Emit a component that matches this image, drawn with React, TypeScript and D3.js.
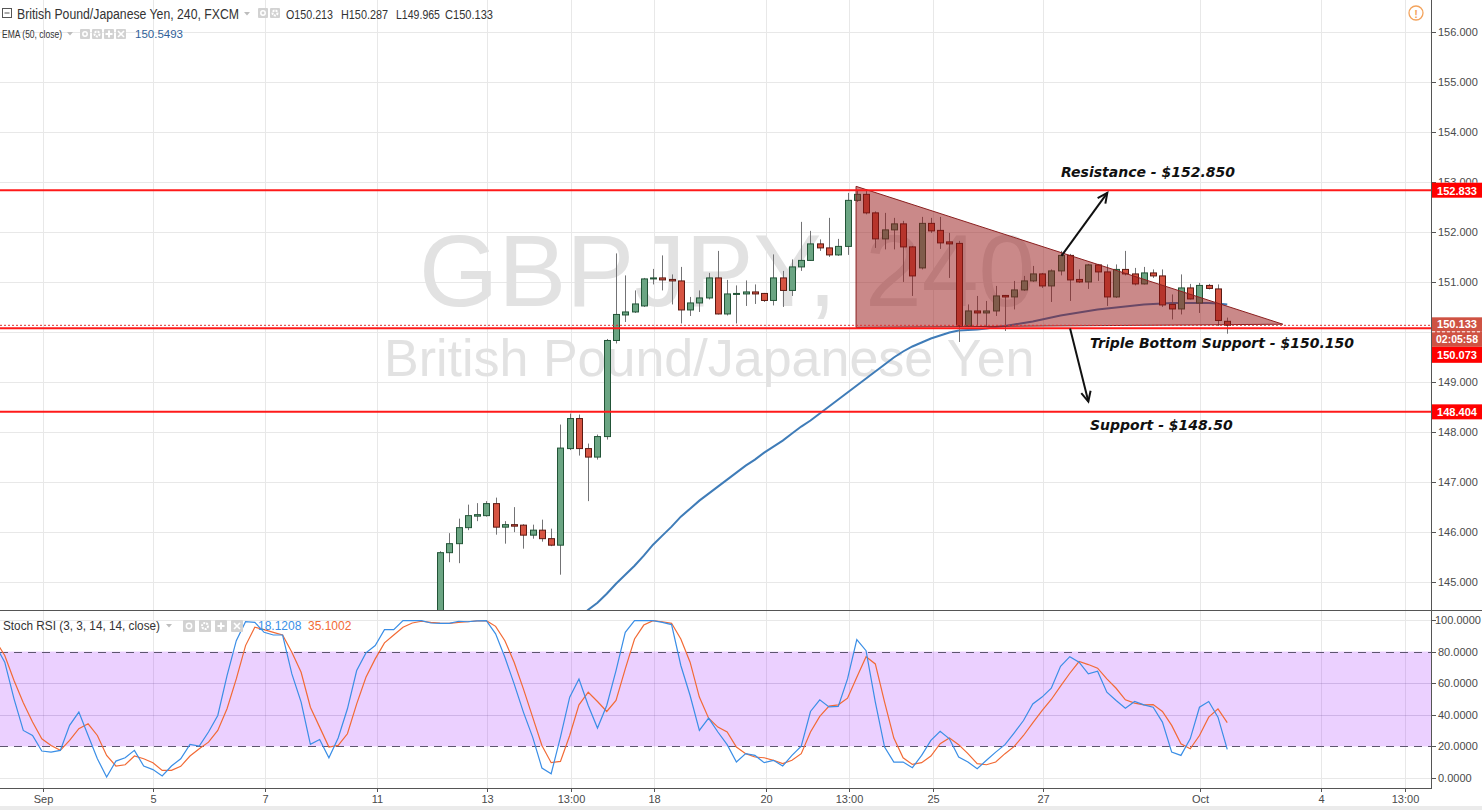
import React from 'react';
import * as d3 from 'd3';

// ---------------- DATA ----------------
// candles start at bar index 48 (4h bars)
const firstCandleIndex = 48;
const candleOpen = [144.10,145.59,145.77,146.09,146.32,146.33,146.57,146.10,146.15,146.14,145.94,146.04,145.87,145.74,147.67,148.27,147.67,147.50,147.91,149.83,150.34,150.40,150.52,151.06,151.08,151.05,151.02,150.44,150.58,150.68,151.08,150.36,150.75,150.76,150.80,150.77,150.63,151.08,150.83,151.30,151.43,151.76,151.68,151.54,151.71,152.63,152.75,152.38,151.86,152.04,152.16,151.70,151.28,152.17,152.03,151.80,151.77,150.12,150.42,150.38,150.42,150.73,150.70,150.84,151.02,151.16,150.92,151.22,151.53,151.05,151.00,151.34,151.20,150.70,151.25,151.16,150.96,151.18,151.12,150.55,150.46,150.88,150.58,150.93,150.86,150.213];
const candleHigh = [145.62,145.98,146.27,146.55,146.58,146.62,146.69,146.22,146.50,146.16,146.15,146.25,146.07,148.15,148.37,148.35,147.77,147.95,149.86,151.57,151.13,150.83,151.08,151.26,151.53,151.15,151.30,150.70,150.83,151.18,151.62,151.04,150.93,151.03,150.95,150.78,151.55,151.22,151.45,152.20,152.02,151.85,152.28,151.86,152.78,152.82,152.85,152.41,152.38,152.28,152.22,151.72,152.30,152.28,152.30,151.98,151.82,150.55,150.72,150.62,150.92,150.74,151.02,151.12,151.32,151.18,151.25,151.62,151.56,151.25,151.36,151.36,151.35,151.35,151.62,151.28,151.30,151.25,151.25,150.75,151.15,150.96,150.98,150.96,150.95,150.287];
const candleLow = [144.00,145.40,145.38,146.04,146.22,146.31,145.95,145.77,146.00,145.67,145.87,145.81,145.72,145.15,147.64,147.53,146.62,147.45,147.85,149.77,150.20,150.38,150.50,150.95,150.83,150.55,150.17,150.32,150.40,150.65,150.35,150.33,150.17,150.52,150.56,150.60,150.53,150.50,150.72,151.22,151.42,151.62,151.50,151.52,151.54,152.60,152.35,151.68,151.65,151.65,151.00,150.72,151.25,151.98,151.66,151.08,149.80,150.10,150.12,150.12,150.32,150.02,150.45,150.82,151.00,150.88,150.60,151.13,150.62,150.98,150.86,151.02,150.52,150.68,151.13,150.93,150.95,151.08,150.50,150.25,150.35,150.65,150.38,150.85,150.12,149.965];
const candleClose = [145.59,145.77,146.09,146.33,146.35,146.57,146.10,146.15,146.12,145.94,146.04,145.87,145.74,147.68,148.27,147.67,147.50,147.91,149.83,150.35,150.40,150.56,151.06,151.08,151.04,151.02,150.44,150.58,150.68,151.08,150.36,150.76,150.77,150.80,150.76,150.63,151.08,150.83,151.30,151.43,151.76,151.68,151.54,151.71,152.63,152.75,152.38,151.86,152.04,152.16,151.70,151.12,152.17,152.02,151.78,151.76,150.12,150.42,150.38,150.42,150.72,150.70,150.84,151.02,151.16,150.92,151.22,151.53,151.04,151.00,151.34,151.20,150.70,151.25,151.16,150.96,151.18,151.12,150.54,150.46,150.88,150.66,150.93,150.87,150.23,150.133];

// EMA(50) from bar index 60
const emaStartIndex = 60;
const emaValues = [143.75,143.93,144.11,144.28,144.45,144.59,144.77,144.97,145.15,145.33,145.53,145.75,145.93,146.11,146.31,146.47,146.63,146.77,146.91,147.05,147.19,147.33,147.45,147.59,147.71,147.83,147.97,148.11,148.23,148.37,148.51,148.65,148.79,148.93,149.07,149.21,149.35,149.49,149.61,149.71,149.79,149.87,149.93,149.99,150.03,150.04,150.05,150.07,150.10,150.12,150.15,150.18,150.21,150.25,150.29,150.33,150.36,150.39,150.42,150.45,150.47,150.49,150.51,150.53,150.55,150.56,150.57,150.58,150.58,150.58,150.58,150.58,150.57,150.55];

// Stoch RSI from bar index 0
const stochK = [84,73.3,50.1,30.1,26.9,17.1,16.4,17.5,33.3,41.7,26.9,12.2,0.6,10.7,12.8,17.5,7.6,5.3,1.3,7.6,12.2,21.3,20.2,29.1,39.6,64.8,86.9,98.9,98.5,92.2,90.5,90.5,65.9,48,21.3,24.4,12.8,25.3,43.8,68,79.2,83.8,93.9,93.9,99.6,99.6,99.6,98.1,97.9,97.9,99.2,98.9,99.4,99.6,91.2,76.4,59.6,41.7,25.9,6.3,2.7,25.9,51.2,62.7,45.9,31.6,45.9,68,92.2,99.6,99.6,99.6,98.5,97.1,71.2,52.2,30.1,37.9,29.1,21.1,10.1,15.4,14.3,9.7,11.2,7.6,14.3,20.2,42.1,49.5,45,45.3,62.7,87.6,80.6,48,19.6,10.1,10.1,6.5,14.3,23.8,29.5,24.8,13.3,10.1,5.9,11.2,16.4,21.1,28.6,36.4,46.9,51.2,56.8,70.7,76.8,73.3,65.9,67.6,54.3,49.1,44.2,48.4,46.3,44.8,35.4,16.4,14.3,24.8,44.8,48.4,38.5,18.1208];
const stochD = [87,77.5,61.7,47.6,35.4,24.8,20.6,17.5,23.8,31.2,34.3,26.9,14.3,7.6,8.4,13.9,12.2,9.7,4.8,4.8,7.4,13.9,18.5,22.7,30.1,43.8,62.7,83.8,95.4,93.9,92.2,90.5,79.6,66.9,44.8,32.2,19.6,20.6,28,46.9,63.8,75.4,85.5,90.5,95.4,98.1,99.2,98.5,98.1,97.9,98.5,98.9,99.4,99.6,96,86.9,73.3,56.4,38.5,20.6,9.7,10.5,26.9,46.3,54.3,48.4,42.1,49.1,69.1,88,96.8,99.6,98.9,97.9,88,73.3,51.2,37.9,32.2,29.1,19.6,15.4,13.3,12.8,11.2,9.1,11.2,15.4,29.1,39,45.5,46.3,50.5,63.8,76.8,72.2,48,25.3,12.8,8.6,9.7,13.9,21.7,25.3,21.1,15.4,9.1,8.4,10.1,15.4,20,26.9,34.9,42.7,49.7,58.1,66.3,73.7,71.8,69.5,62.7,56.8,49.5,47.4,46.3,46.5,42.1,33.3,21.7,18.5,26.9,38.5,43.8,35.1002];

// time axis
const timeTickLabels = ['Sep','5','7','11','13','13:00','18','20','13:00','25','27','Oct','4','13:00'];
const timeTickIndex = [5.1,17.04,29.1,41.2,53.1,62.1,71.1,83.2,92.2,101.2,113.1,130.1,143.1,152.2];

const priceTicks = [145,146,147,148,149,150,151,152,153,154,155,156];
const stochTicks = [0,20,40,60,80,100];
const stochGrid = [0,40,60,100];

// horizontal levels
const levelValues = [152.833, 150.073, 148.404];
const lastPrice = 150.133;
const emaLast = 150.5493;

// header OHLC
const ohlcLabels = ['O', 'H', 'L', 'C'];
const ohlcValues = [150.213, 150.287, 149.965, 150.133];

// triangle (bar index, price)
const triangleIdx = [92.92, 92.92, 139.0];
const trianglePrice = [152.91, 150.09, 150.155];

// annotations
const noteTexts = ['Resistance - $152.850', 'Triple Bottom Support - $150.150', 'Support - $148.50'];
const noteIdx = [115.05, 118.18, 118.18];
const notePrice = [153.1, 149.67, 148.04];
const arrowFromIdx = [115.1, 116.03];
const arrowFromPrice = [151.52, 150.07];
const arrowToIdx = [120.05, 118.0];
const arrowToPrice = [152.78, 148.61];

// ---------------- LAYOUT ----------------
const W = 1482, H = 810;
const AX = 1431;
const P_BOTTOM = 610;
const S_TOP = 611, S_BOTTOM = 788;

const UP = '#6ba583', UP_B = '#225437', DN = '#d75442', DN_B = '#5b1a13', WICK = '#737375';
const GRID = '#e8e8e8';
const FONT = "'Liberation Sans', Arial, sans-serif";

function Icon({ x, y, w, kind }: { x: number; y: number; w: number; kind: string }) {
  const cx = x + w / 2, cy = y + w / 2;
  let g: any = null;
  if (kind === 'eye') g = <circle cx={cx} cy={cy} r={w * 0.22} fill="none" stroke="#fff" strokeWidth={1.5} />;
  else if (kind === 'gear') g = <circle cx={cx} cy={cy} r={w * 0.25} fill="none" stroke="#fff" strokeWidth={2} strokeDasharray="2,1" />;
  else if (kind === 'plus') g = <path d={`M${cx - 3.5},${cy}H${cx + 3.5}M${cx},${cy - 3.5}V${cy + 3.5}`} stroke="#fff" strokeWidth={2} />;
  else g = <path d={`M${cx - 3},${cy - 3}L${cx + 3},${cy + 3}M${cx + 3},${cy - 3}L${cx - 3},${cy + 3}`} stroke="#fff" strokeWidth={1.6} />;
  return (
    <g>
      <rect x={x} y={y} width={w} height={w} fill="#d2d2d2" rx={1} />
      {g}
    </g>
  );
}

function Caret({ x, y }: { x: number; y: number }) {
  return <path d={`M${x},${y}L${x + 6},${y}L${x + 3},${y + 3.5}Z`} fill="#bdbdbd" />;
}

export default function App() {
  const x = d3.scaleLinear().domain([0, 155]).range([-4.5, AX]);
  const y = d3.scaleLinear().domain([145, 156]).range([582.2, 31.7]);
  const ys = d3.scaleLinear().domain([0, 100]).range([778, 620]);

  const candles = candleOpen.map((o, i) => ({
    i: firstCandleIndex + i, o, h: candleHigh[i], l: candleLow[i], c: candleClose[i],
  }));

  const emaLine = d3.line<number>().x((_, i) => x(emaStartIndex + i)).y((v) => y(v));
  const stochLine = d3.line<number>().x((_, i) => x(i)).y((v) => ys(v));

  const tri = triangleIdx.map((g, i) => [x(g), y(trianglePrice[i])] as [number, number]);

  const yLast = y(lastPrice);
  // axis-marker stack occupies this y range; tick labels hidden behind it are skipped
  const stackTop = yLast - 8, stackBottom = yLast + 37.5;
  const hiddenTick = (p: number) => y(p) > stackTop && y(p) < stackBottom;

  const arrowHead = (x1: number, y1: number, x2: number, y2: number) => {
    const a = Math.atan2(y2 - y1, x2 - x1);
    const L = 11, s = 0.45;
    const p1 = [x2 - L * Math.cos(a - s), y2 - L * Math.sin(a - s)];
    const p2 = [x2 - L * Math.cos(a + s), y2 - L * Math.sin(a + s)];
    return `M${p1[0]},${p1[1]}L${x2},${y2}L${p2[0]},${p2[1]}`;
  };

  const ohlcX = [286, 341, 396, 445];

  return (
    <div style={{ position: 'absolute', left: 0, top: 0 }}>
      <svg width={W} height={H} style={{ display: 'block', background: '#fff' }} fontFamily={FONT}>
        <defs>
          <clipPath id="pclip"><rect x={0} y={0} width={AX} height={P_BOTTOM} /></clipPath>
          <clipPath id="sclip"><rect x={0} y={S_TOP} width={AX} height={S_BOTTOM - S_TOP} /></clipPath>
          <clipPath id="tick153"><rect x={AX + 1} y={0} width={W - AX} height={y(152.833) - 7.5} /></clipPath>
        </defs>

        {/* vertical grid */}
        {timeTickIndex.map((g, i) => (
          <line key={'vg' + i} x1={Math.round(x(g)) + 0.5} x2={Math.round(x(g)) + 0.5} y1={0} y2={S_BOTTOM} stroke={GRID} />
        ))}
        {/* price grid */}
        {priceTicks.map((p) => (
          <line key={'pg' + p} x1={0} x2={AX} y1={Math.round(y(p)) + 0.5} y2={Math.round(y(p)) + 0.5} stroke={GRID} />
        ))}

        {/* watermark */}
        <g clipPath="url(#pclip)">
          <text x={419} y={306} fontSize={102} fill="#e2e2e2">GBPJPY, 240</text>
          <text x={384} y={376} fontSize={52} fill="#e2e2e2">British Pound/Japanese Yen</text>
        </g>

        {/* price pane */}
        <g clipPath="url(#pclip)">
          <path d={emaLine(emaValues) || ''} fill="none" stroke="#3f7cb8" strokeWidth={2} />
          {candles.map((d) => {
            const cx = Math.round(x(d.i));
            const up = d.c >= d.o;
            const top = y(Math.max(d.o, d.c));
            const bot = y(Math.min(d.o, d.c));
            return (
              <g key={'c' + d.i}>
                <line x1={cx + 0.5} x2={cx + 0.5} y1={y(d.h)} y2={y(d.l)} stroke={WICK} />
                <rect x={cx - 2.5} y={top} width={6} height={Math.max(1, bot - top)} fill={up ? UP : DN} stroke={up ? UP_B : DN_B} strokeWidth={1} />
              </g>
            );
          })}
          <polygon points={tri.map((p) => p.join(',')).join(' ')} fill="rgba(150,20,20,0.5)" stroke="#8a1f1f" strokeWidth={1} />
          {levelValues.map((v) => (
            <line key={'lv' + v} x1={0} x2={AX} y1={y(v)} y2={y(v)} stroke="#ff1a1a" strokeWidth={2} />
          ))}
          <line x1={0} x2={AX} y1={yLast} y2={yLast} stroke="#e03030" strokeWidth={1} strokeDasharray="2,2" />
          {/* annotations */}
          {arrowFromIdx.map((g, i) => {
            const x1 = x(g), y1 = y(arrowFromPrice[i]), x2 = x(arrowToIdx[i]), y2 = y(arrowToPrice[i]);
            return (
              <g key={'ar' + i} stroke="#111" strokeWidth={2} fill="none">
                <line x1={x1} y1={y1} x2={x2} y2={y2} />
                <path d={arrowHead(x1, y1, x2, y2)} />
              </g>
            );
          })}
          {noteTexts.map((t, i) => (
            <text key={'nt' + i} x={x(noteIdx[i])} y={y(notePrice[i])} fontFamily="'DejaVu Sans', Verdana, sans-serif" fontWeight="bold" fontStyle="italic" fontSize={14} fill="#111">{t}</text>
          ))}
        </g>

        {/* stoch pane */}
        <rect x={0} y={ys(80)} width={AX} height={ys(20) - ys(80)} fill="rgba(153,21,255,0.2)" />
        {stochGrid.map((v) => (
          <line key={'sg' + v} x1={0} x2={AX} y1={Math.round(ys(v)) + 0.5} y2={Math.round(ys(v)) + 0.5} stroke={v === 0 || v === 100 ? GRID : 'rgba(120,90,160,0.25)'} />
        ))}
        {[80, 20].map((v) => (
          <line key={'sb' + v} x1={0} x2={AX} y1={Math.round(ys(v)) + 0.5} y2={Math.round(ys(v)) + 0.5} stroke="#5e5670" strokeDasharray="8,6" />
        ))}
        <g clipPath="url(#sclip)">
          <path d={stochLine(stochD) || ''} fill="none" stroke="#f26a35" strokeWidth={1.2} />
          <path d={stochLine(stochK) || ''} fill="none" stroke="#3a8ee6" strokeWidth={1.2} />
        </g>

        {/* frame lines */}
        <line x1={0} x2={W} y1={610.5} y2={610.5} stroke="#555" />
        <line x1={AX + 0.5} x2={AX + 0.5} y1={0} y2={S_BOTTOM} stroke="#555" />
        <line x1={0} x2={AX + 1} y1={S_BOTTOM + 0.5} y2={S_BOTTOM + 0.5} stroke="#555" />
        <rect x={0} y={806} width={W} height={4} fill="#ebebeb" />

        {/* time axis */}
        {timeTickLabels.map((t, i) => {
          const tx = Math.round(x(timeTickIndex[i])) + 0.5;
          return (
            <g key={'tt' + i}>
              <line x1={tx} x2={tx} y1={S_BOTTOM} y2={S_BOTTOM + 4} stroke="#555" />
              <text x={tx} y={803} fontSize={11} fill="#4a4a4a" textAnchor="middle">{t}</text>
            </g>
          );
        })}

        {/* price axis */}
        {priceTicks.map((p) => (
          <g key={'pt' + p}>
            <line x1={AX} x2={AX + 5} y1={Math.round(y(p)) + 0.5} y2={Math.round(y(p)) + 0.5} stroke="#555" />
            {!hiddenTick(p) && (
              <text x={1438} y={y(p) + 4} fontSize={11} fill="#4a4a4a" clipPath={p === 153 ? 'url(#tick153)' : undefined}>{p.toFixed(3)}</text>
            )}
          </g>
        ))}
        {stochTicks.map((v) => (
          <g key={'st' + v}>
            <line x1={AX} x2={AX + 5} y1={Math.round(ys(v)) + 0.5} y2={Math.round(ys(v)) + 0.5} stroke="#555" />
            <text x={v === 100 ? 1435 : 1438} y={ys(v) + 4} fontSize={11} fill="#4a4a4a">{v.toFixed(4)}</text>
          </g>
        ))}

        {/* axis markers */}
        {[levelValues[0], levelValues[2]].map((v) => (
          <g key={'am' + v}>
            <rect x={AX + 1} y={y(v) - 7.5} width={W - AX} height={15} fill="#ff0000" />
            <text x={1437} y={y(v) + 4.5} fontSize={11.5} fontWeight="bold" fill="#fff" textLength={40} lengthAdjust="spacingAndGlyphs">{v.toFixed(3)}</text>
          </g>
        ))}
        <g>
          <rect x={AX + 1} y={yLast - 8} width={W - AX} height={14.5} fill="#cf5243" />
          <text x={1437} y={yLast + 3} fontSize={10.5} fontWeight="bold" fill="#fff" textLength={40} lengthAdjust="spacingAndGlyphs">{lastPrice.toFixed(3)}</text>
          <rect x={AX + 1} y={yLast + 6.5} width={W - AX} height={15} fill="#cf5243" />
          <line x1={AX + 1} x2={W} y1={yLast + 6.5} y2={yLast + 6.5} stroke="#fff" strokeDasharray="3,2" />
          <text x={1436} y={yLast + 18} fontSize={10.5} fontWeight="bold" fill="#fff" textLength={42} lengthAdjust="spacingAndGlyphs">02:05:58</text>
          <rect x={AX + 1} y={yLast + 21.5} width={W - AX} height={16} fill="#ff0000" />
          <text x={1437} y={yLast + 33.5} fontSize={10.5} fontWeight="bold" fill="#fff" textLength={40} lengthAdjust="spacingAndGlyphs">{levelValues[1].toFixed(3)}</text>
        </g>

        {/* top-right warning */}
        <circle cx={1416} cy={13} r={7} fill="none" stroke="#f3a35c" strokeWidth={1.3} />
        <text x={1416} y={17.5} fontSize={11} fontWeight="bold" fill="#f3a35c" textAnchor="middle">!</text>

        {/* header line 1 */}
        <rect x={2.5} y={8.5} width={9} height={9} fill="none" stroke="#555" />
        <line x1={4.5} x2={9.5} y1={13} y2={13} stroke="#555" />
        <text x={17} y={19} fontSize={14} fill="#333" textLength={222} lengthAdjust="spacingAndGlyphs">British Pound/Japanese Yen, 240, FXCM</text>
        <Caret x={244} y={12} />
        <Icon x={258} y={8} w={10} kind="eye" />
        <Icon x={270} y={8} w={10} kind="gear" />
        {ohlcLabels.map((t, i) => (
          <text key={'ohlc' + i} x={ohlcX[i]} y={19} fontSize={13} fill="#333" textLength={[47, 47, 44, 48][i]} lengthAdjust="spacingAndGlyphs">{t + ohlcValues[i].toFixed(3)}</text>
        ))}

        {/* header line 2 */}
        <text x={2} y={38} fontSize={11.5} fill="#333" textLength={60} lengthAdjust="spacingAndGlyphs">EMA (50, close)</text>
        <Caret x={67} y={32} />
        <Icon x={80} y={29} w={10} kind="eye" />
        <Icon x={92} y={29} w={10} kind="gear" />
        <Icon x={104} y={29} w={10} kind="plus" />
        <Icon x={116} y={29} w={10} kind="x" />
        <text x={135} y={38} fontSize={11.5} fill="#2f5f9a">{emaLast.toFixed(4)}</text>

        {/* stoch header */}
        <text x={3} y={630} fontSize={12} fill="#333" textLength={157} lengthAdjust="spacingAndGlyphs">Stoch RSI (3, 3, 14, 14, close)</text>
        <Caret x={166} y={624} />
        <Icon x={183} y={620} w={12} kind="eye" />
        <Icon x={199} y={620} w={12} kind="gear" />
        <Icon x={215} y={620} w={12} kind="plus" />
        <Icon x={231} y={620} w={12} kind="x" />
        <text x={258} y={630} fontSize={12} fill="#3a8ee6">{stochK[stochK.length - 1].toFixed(4)}</text>
        <text x={308} y={630} fontSize={12} fill="#f26a35">{stochD[stochD.length - 1].toFixed(4)}</text>
      </svg>
    </div>
  );
}
